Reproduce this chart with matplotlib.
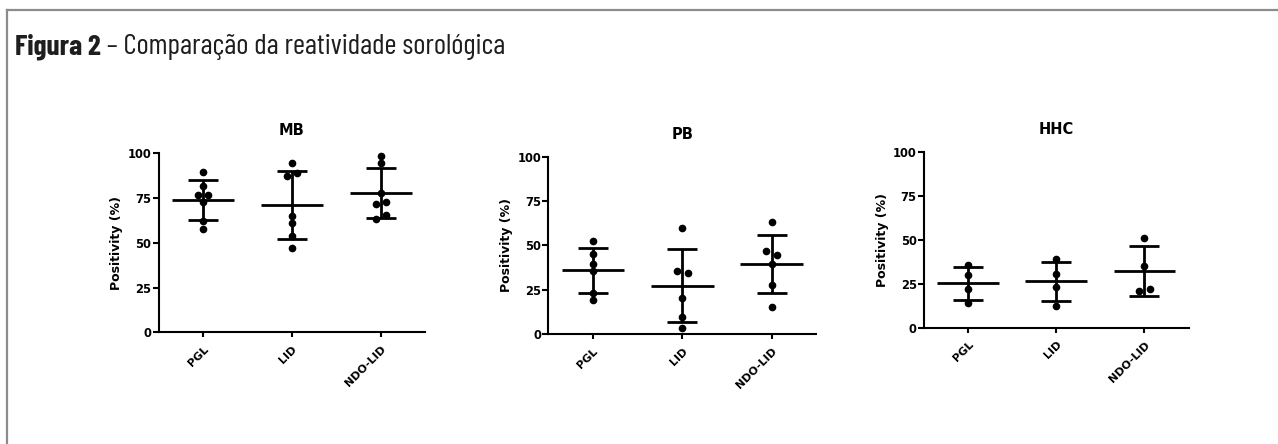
import numpy as np
import matplotlib
matplotlib.use('Agg')
import matplotlib.pyplot as plt
from matplotlib.lines import Line2D

plt.rcParams['font.family'] = ['DejaVu Sans']

# ---------------- data ----------------
groups = ['PGL', 'LID', 'NDO-LID']
panel_titles = ['MB', 'PB', 'HHC']
yticks = [0, 25, 50, 75, 100]

mb_pgl = [89.8, 81.8, 76.7, 76.7, 72.6, 62.2, 57.7]
mb_lid = [94.4, 87.5, 89.2, 65.0, 61.3, 54.0, 47.3]
mb_ndo = [98.5, 94.8, 78.0, 71.5, 72.8, 63.3, 65.5]

pb_pgl = [52.7, 45.2, 39.6, 35.8, 23.1, 19.3]
pb_lid = [59.7, 35.8, 34.7, 20.6, 9.9, 3.4]
pb_ndo = [63.4, 46.7, 44.5, 39.6, 27.8, 15.4]

hhc_pgl = [35.6, 29.9, 21.8, 14.2]
hhc_lid = [38.8, 30.7, 23.3, 12.5]
hhc_ndo = [51.1, 35.2, 21.0, 21.8]

panel_data = [
    [mb_pgl, mb_lid, mb_ndo],
    [pb_pgl, pb_lid, pb_ndo],
    [hhc_pgl, hhc_lid, hhc_ndo],
]

# ---------------- layout ----------------
W, H = 1278, 444
fig = plt.figure(figsize=(W / 100, H / 100), dpi=100)
fig.patch.set_facecolor('white')

# axes boxes in pixels: left, right, top, bottom
boxes = [
    (158.5, 425.5, 153.3, 332.3),
    (548.3, 816.3, 156.7, 334.3),
    (924.0, 1188.5, 151.7, 327.7),
]


def swarm_offsets(vals, gap=3.0, step=0.12):
    vals = np.asarray(vals, float)
    order = np.argsort(-vals, kind='stable')
    offs = np.zeros(len(vals))
    clusters = []
    cur = [order[0]]
    for i in order[1:]:
        if vals[cur[-1]] - vals[i] < gap:
            cur.append(i)
        else:
            clusters.append(cur)
            cur = [i]
    clusters.append(cur)
    for c in clusters:
        c = sorted(c)
        n = len(c)
        for k, idx in enumerate(c):
            offs[idx] = (k - (n - 1) / 2) * step
    return offs


LW = 2.0
axes = []
for (l, r, t, b), title, data in zip(boxes, panel_titles, panel_data):
    ax = fig.add_axes([l / W, 1 - b / H, (r - l) / W, (b - t) / H])
    axes.append(ax)
    for i, vals in enumerate(data):
        vals = np.asarray(vals, float)
        m = vals.mean()
        sd = vals.std(ddof=1)
        ax.hlines(m, i - 0.35, i + 0.35, color='black', lw=LW, zorder=2)
        ax.errorbar([i], [m], yerr=[sd], fmt='none', ecolor='black',
                    elinewidth=LW, capsize=10.5, capthick=LW, zorder=2)
        xs = i + swarm_offsets(vals)
        ax.plot(xs, vals, 'o', color='black', ms=4.5, mec='black', zorder=3,
                clip_on=False)
    ax.set_xlim(-0.5, 2.5)
    ax.set_ylim(0, 100)
    ax.set_yticks(yticks)
    ax.set_yticklabels([str(v) for v in yticks], fontsize=8.3, fontweight='bold')
    ax.set_xticks(range(len(groups)))
    ax.set_xticklabels(groups, rotation=45, ha='right', rotation_mode='anchor',
                       fontsize=8, fontweight='bold')
    ax.tick_params(axis='y', direction='out', length=4.3, width=1.5,
                   color='black', pad=1)
    ax.tick_params(axis='x', direction='out', length=3.4, width=1.5,
                   color='black', pad=5)
    for s in ['top', 'right']:
        ax.spines[s].set_visible(False)
    for s in ['left', 'bottom']:
        ax.spines[s].set_linewidth(1.5)
        ax.spines[s].set_color('black')
    ax.set_ylabel('Positivity (%)', fontsize=9, fontweight='bold', labelpad=3)
    ax.set_title(title, fontsize=10.5, fontweight='bold', pad=13)
    ax.set_facecolor('none')

# ---------------- heading & frame ----------------
heading_fam = ['Barlow Condensed', 'DejaVu Sans']
t1 = fig.text(15 / W, 1 - 55 / H, 'Figura 2', fontsize=21, fontweight='bold',
              family=heading_fam, color='#1e1e1e', va='baseline', ha='left')
axes[0].annotate(' \u2013 Comparação da reatividade sorológica', xy=(1, 0),
                 xycoords=t1, va='bottom', ha='left', fontsize=21,
                 family=heading_fam, color='#1e1e1e', annotation_clip=False)

frame_col = '#8c8c8c'
fig.add_artist(Line2D([6.5 / W, 1277 / W], [1 - 10 / H, 1 - 10 / H],
                      transform=fig.transFigure, color=frame_col, lw=1.6))
fig.add_artist(Line2D([6.8 / W, 6.8 / W], [1 - 10 / H, 0],
                      transform=fig.transFigure, color=frame_col, lw=1.6))

fig.savefig('out.png', dpi=100, facecolor='white')
